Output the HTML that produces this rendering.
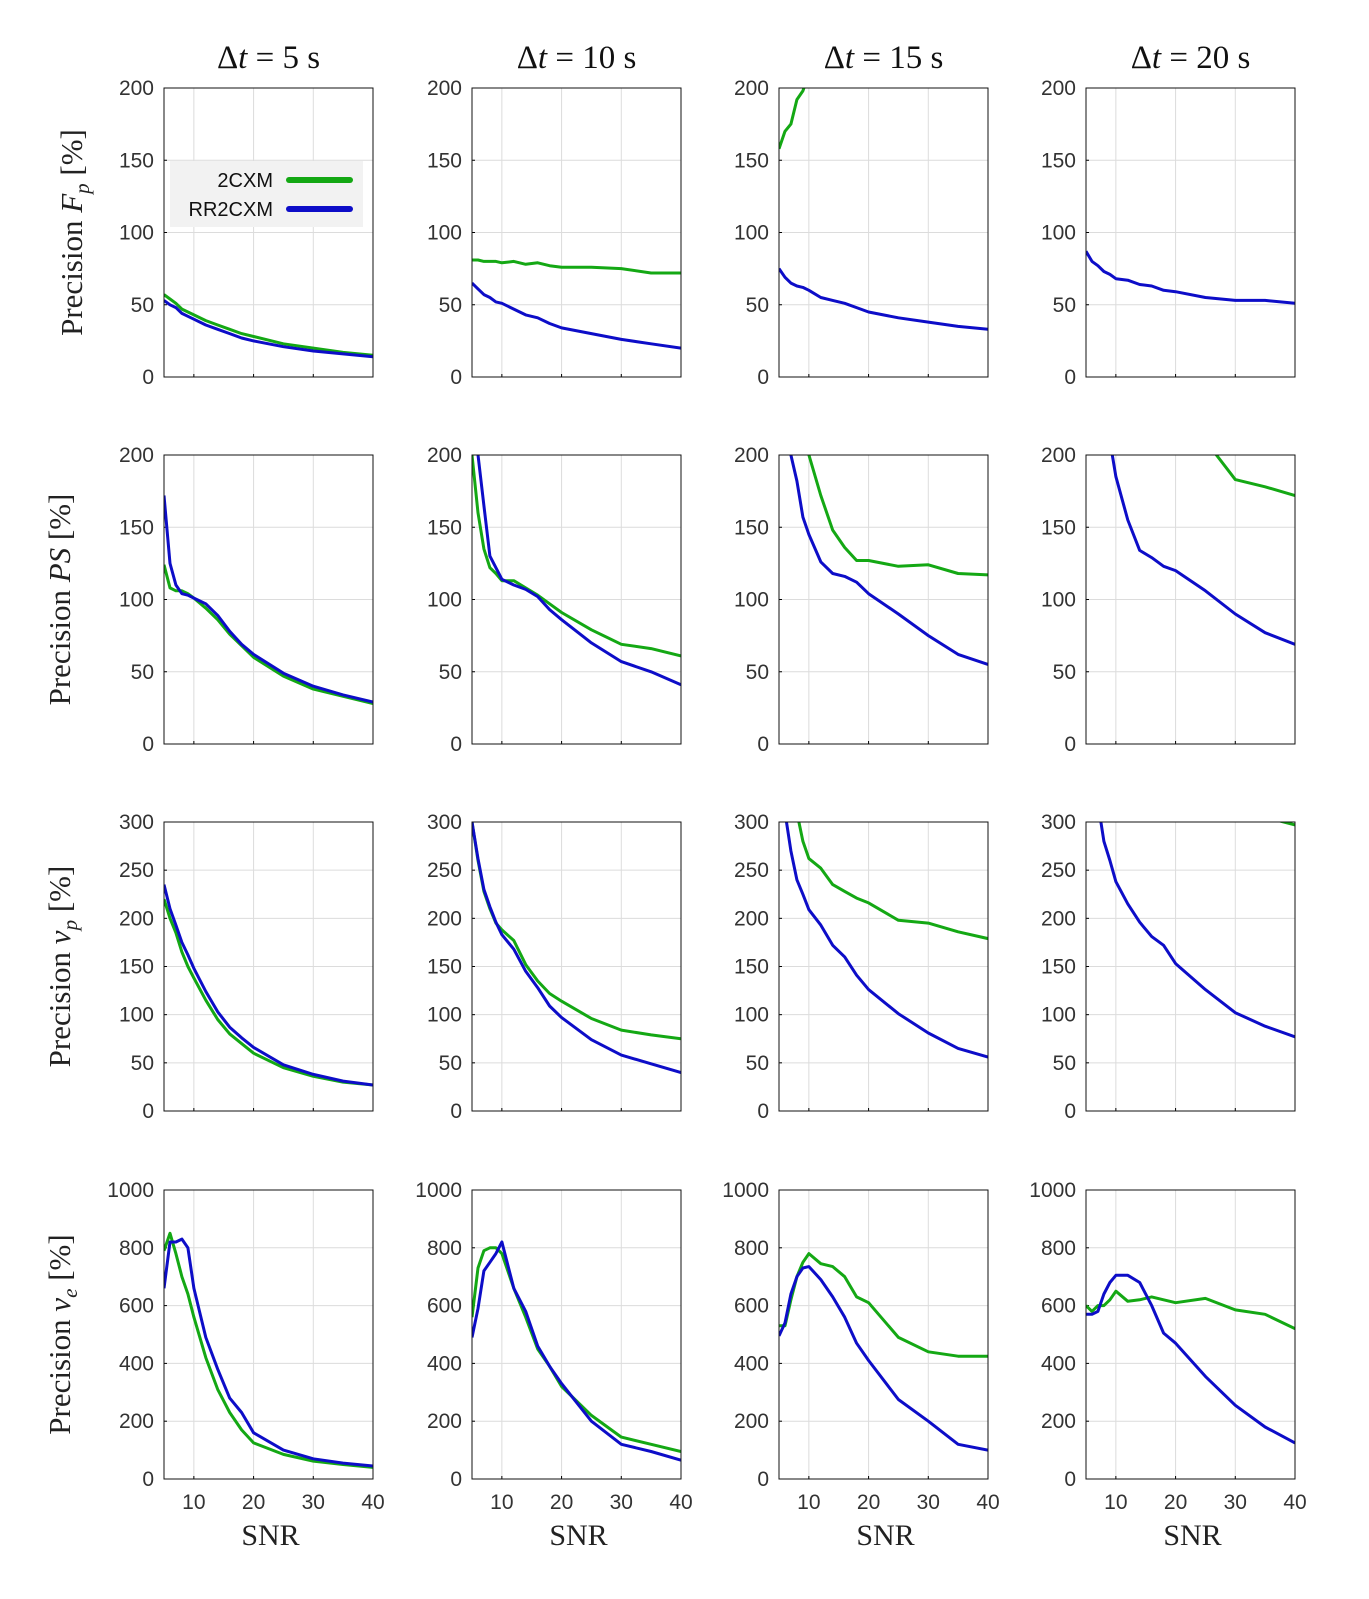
<!DOCTYPE html>
<html><head><meta charset="utf-8"><style>
html,body{margin:0;padding:0;background:#fff}
svg text{font-family:"Liberation Sans",sans-serif}
.serif{font-family:"Liberation Serif",serif}
</style></head><body>
<svg id="fig" width="1369" height="1594" viewBox="0 0 1369 1594" xmlns="http://www.w3.org/2000/svg"></svg>
<script>
const snr=[5,6,7,8,9,10,12,14,16,18,20,25,30,35,40];
const xTicks=[10,20,30,40];
const colTitles=["5","10","15","20"];
const rowMax=[200,200,300,1000];
const rowStep=[50,50,50,200];
const rowLabels=[["F","p"],["PS",""],["v","p"],["v","e"]];
// green = 2CXM, blue = RR2CXM; [row][col]
const green=[
 [[57,54,51,47,45,43,39,36,33,30,28,23,20,17,15],
  [81,81,80,80,80,79,80,78,79,77,76,76,75,72,72],
  [158,170,175,192,198,210,225,240,255,270,285,320,350,380,400],
  [260,255,250,245,240,238,235,232,230,228,226,222,220,218,215]],
 [[124,108,106,106,104,101,94,86,76,68,60,47,38,33,28],
  [200,160,135,122,118,113,113,108,103,97,91,79,69,66,61],
  [300,280,260,240,220,200,172,148,136,127,127,123,124,118,117],
  [400,380,360,340,320,300,280,265,250,240,230,210,183,178,172]],
 [[220,200,185,165,150,138,115,95,80,70,60,45,36,30,27],
  [300,260,228,210,195,188,177,152,135,122,114,96,84,79,75],
  [400,360,330,310,280,262,252,235,228,221,216,198,195,186,179],
  [420,410,400,390,380,370,360,350,340,335,330,320,310,305,297]],
 [[790,850,780,700,640,560,420,310,230,170,125,85,62,50,40],
  [560,730,790,800,800,780,660,560,450,390,320,220,145,120,95],
  [530,530,620,700,750,780,745,735,700,630,610,490,440,425,425],
  [600,580,600,600,620,650,615,620,630,620,610,625,585,570,520]]
];
const blue=[
 [[53,50,48,44,42,40,36,33,30,27,25,21,18,16,14],
  [65,61,57,55,52,51,47,43,41,37,34,30,26,23,20],
  [75,69,65,63,62,60,55,53,51,48,45,41,38,35,33],
  [87,80,77,73,71,68,67,64,63,60,59,55,53,53,51]],
 [[172,125,110,104,103,101,97,89,78,69,62,49,40,34,29],
  [215,200,165,130,122,114,110,107,102,93,86,70,57,50,41],
  [260,230,200,182,157,145,126,118,116,112,104,90,75,62,55],
  [280,260,240,225,210,185,155,134,129,123,120,106,90,77,69]],
 [[235,210,193,175,162,148,124,103,87,76,66,48,38,31,27],
  [300,262,230,212,196,183,168,145,128,109,97,74,58,49,40],
  [340,310,270,240,225,209,193,172,160,141,126,101,81,65,56],
  [360,340,320,280,260,238,215,196,181,172,153,126,102,88,77]],
 [[660,820,820,830,800,660,490,380,280,230,160,100,70,55,45],
  [490,590,720,750,780,820,660,580,460,390,330,200,120,95,65],
  [495,540,640,700,730,735,690,630,560,470,410,275,200,120,100],
  [570,570,580,640,680,705,705,680,600,505,470,355,255,180,125]]
];
const colX=[164,472,779,1086], PW=209;
const rowY=[88,455,822,1190], PH=289;
const NS="http://www.w3.org/2000/svg";
const svg=document.getElementById('fig');
function mk(tag,attrs,parent){const e=document.createElementNS(NS,tag);for(const k in attrs)e.setAttribute(k,attrs[k]);(parent||svg).appendChild(e);return e;}
const defs=mk('defs',{});
for(let r=0;r<4;r++){for(let c=0;c<4;c++){
  const x0=colX[c],y0=rowY[r];
  const xs=v=>x0+(v-5)/35*PW;
  const ys=v=>y0+PH-v/rowMax[r]*PH;
  const g=mk('g',{});
  
  
  const cp=mk('clipPath',{id:'cp'+r+c},defs);
  mk('rect',{x:x0,y:y0,width:PW,height:PH},cp);
  // grid
  for(const t of [10,20,30]){const l=mk('line',{x1:xs(t),x2:xs(t),y1:y0,y2:y0+PH,stroke:'#dcdcdc','stroke-width':1},g);
    }
  for(let v=rowStep[r];v<rowMax[r];v+=rowStep[r]){const l=mk('line',{x1:x0,x2:x0+PW,y1:ys(v),y2:ys(v),stroke:'#dcdcdc','stroke-width':1},g);
    }
  // y tick labels
  for(let v=0;v<=rowMax[r];v+=rowStep[r]){
    const t=mk('text',{x:x0-10,y:ys(v)+7,'text-anchor':'end','font-size':21,fill:'#333'},g);t.textContent=v;
    
    mk('line',{x1:x0,x2:x0+3,y1:ys(v),y2:ys(v),stroke:'#000'},g);
  }
  for(const tv of xTicks){mk('line',{x1:xs(tv),x2:xs(tv),y1:y0+PH,y2:y0+PH-3,stroke:'#000'},g);}
  if(r===3){for(const tv of xTicks){const t=mk('text',{x:xs(tv),y:y0+PH+30,'text-anchor':'middle','font-size':21,fill:'#333'},g);t.textContent=tv;
    }
    const s=mk('text',{x:x0+PW/2+2,y:y0+PH+66,'text-anchor':'middle','font-size':30,class:'serif',fill:'#222'},g);s.textContent='SNR';
    }
  // series
  [[green,'#14a814','series-2cxm'],[blue,'#0d0dc8','series-rr2cxm']].forEach(([d,col,nm])=>{
    const pts=snr.map((s,i)=>xs(s).toFixed(1)+','+ys(d[r][c][i]).toFixed(1)).join(' ');
    const pl=mk('polyline',{points:pts,fill:'none',stroke:col,'stroke-width':3,'stroke-linejoin':'round','clip-path':'url(#cp'+r+c+')'},g);
    
  });
  const box=mk('rect',{x:x0,y:y0,width:PW,height:PH,fill:'none',stroke:'#111','stroke-width':1},g);
  
  if(r===0){const t=mk('text',{x:x0+PW/2,y:68,'text-anchor':'middle','font-size':33,class:'serif',fill:'#111'},g);
    t.innerHTML='Δ<tspan font-style="italic">t</tspan> = '+colTitles[c]+' s';
    }
  if(c===0){const cy=y0+PH/2, lx=r===0?82:70;
    const t=mk('text',{x:0,y:0,transform:'translate('+lx+','+cy+') rotate(-90)','text-anchor':'middle','font-size':31,class:'serif',fill:'#222'},g);
    const L=rowLabels[r];
    t.innerHTML='Precision <tspan font-style="italic">'+L[0]+'</tspan>'+(L[1]?'<tspan font-style="italic" font-size="21" dy="7">'+L[1]+'</tspan><tspan dy="-7"> [%]</tspan>':' [%]');
    }
}}
// legend
const lg=mk('g',{});


mk('rect',{x:170,y:161,width:193,height:66,fill:'#f2f2f2'},lg);
[['2CXM','#14a814',180],['RR2CXM','#0d0dc8',209]].forEach(([n,col,y])=>{
  const t=mk('text',{x:273,y:y+7,'text-anchor':'end','font-size':20,fill:'#111'},lg);t.textContent=n;
  
  mk('line',{x1:289,x2:350,y1:y,y2:y,stroke:col,'stroke-width':6,'stroke-linecap':'round'},lg);
});
</script>
</body></html>
